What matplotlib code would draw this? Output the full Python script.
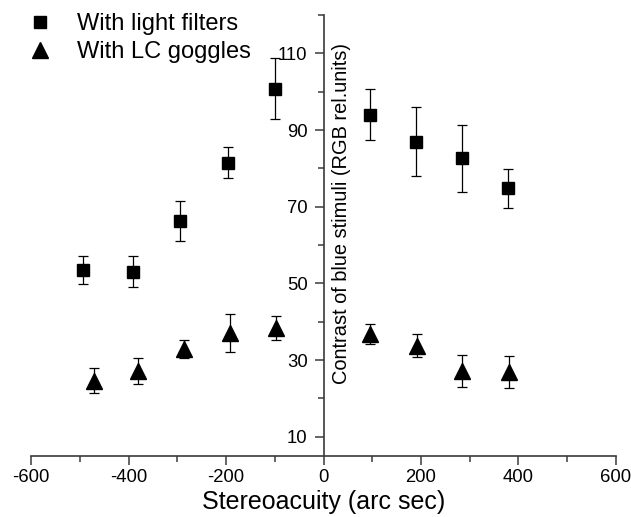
import matplotlib
matplotlib.use('Agg')
import matplotlib.pyplot as plt
from matplotlib.ticker import MultipleLocator, FixedLocator

plt.rcParams['font.family'] = ['Liberation Sans', 'DejaVu Sans']

# Data
filt_x = [-493, -392, -294, -196, -100, 95, 190, 284, 378]
filt_y = [53.5, 53.1, 66.2, 81.5, 100.8, 94.0, 87.0, 82.6, 74.8]
filt_err = [3.7, 4.0, 5.2, 4.1, 8.0, 6.6, 9.0, 8.7, 5.0]

lc_x = [-471, -380, -286, -191, -98, 95, 191, 285, 380]
lc_y = [24.6, 27.2, 32.9, 37.1, 38.4, 36.8, 33.8, 27.2, 27.0]
lc_err = [3.3, 3.3, 2.4, 5.0, 3.1, 2.7, 3.1, 4.2, 4.2]

x_ticks = [-600, -400, -200, 0, 200, 400, 600]
y_ticks = [10, 30, 50, 70, 90, 110]

W, H = 631, 517
fig = plt.figure(figsize=(W / 100, H / 100), dpi=100)
ax = fig.add_axes([31.3 / W, 61 / H, 584.4 / W, 441 / H])

spine_col = '#3a3a3a'
ax.errorbar(filt_x, filt_y, yerr=filt_err, fmt='none', ecolor='black',
            elinewidth=0.9, capsize=3.3, capthick=0.9, zorder=2)
ax.errorbar(lc_x, lc_y, yerr=lc_err, fmt='none', ecolor='black',
            elinewidth=0.9, capsize=3.3, capthick=0.9, zorder=2)
ax.plot(filt_x, filt_y, linestyle='none', marker='s', markersize=8.8,
        color='black', label='With light filters', zorder=3)
ax.plot(lc_x, lc_y, linestyle='none', marker='^', markersize=12,
        color='black', label='With LC goggles', zorder=3)

ax.set_xlim(-600, 600)
ax.set_ylim(5, 120)

ax.spines['top'].set_visible(False)
ax.spines['right'].set_visible(False)
ax.spines['left'].set_position(('data', 0))
for s in ('left', 'bottom'):
    ax.spines[s].set_color(spine_col)
    ax.spines[s].set_linewidth(1.2)

ax.xaxis.set_major_locator(FixedLocator(x_ticks))
ax.xaxis.set_minor_locator(MultipleLocator(100))
ax.yaxis.set_major_locator(FixedLocator(y_ticks))
ax.yaxis.set_minor_locator(FixedLocator([20, 40, 60, 80, 100, 120]))

ax.tick_params(axis='both', which='major', direction='out', length=6.5,
               width=1.1, color=spine_col, labelsize=13.3)
ax.tick_params(axis='x', which='major', pad=3)
ax.tick_params(axis='y', which='major', pad=5)
ax.tick_params(axis='both', which='minor', direction='out', length=4,
               width=1.1, color=spine_col)
ax.set_xticklabels([str(v) for v in x_ticks])
ax.set_yticklabels([str(v) for v in y_ticks])

ax.set_xlabel('Stereoacuity (arc sec)', fontsize=18, labelpad=2.5)
ax.set_ylabel('Contrast of blue stimuli (RGB rel.units)', fontsize=14.4)
ax.yaxis.set_label_coords((341.5 - 31.3) / 584.4, (303 - 61) / 441)
ax.yaxis.label.set_va('center')

leg = ax.legend(loc='upper left', bbox_to_anchor=(23.5 / W, 1 - 13 / H),
                bbox_transform=fig.transFigure, frameon=False, fontsize=17,
                handletextpad=0.87, labelspacing=0.25, borderpad=0,
                handlelength=1.4, borderaxespad=0)

fig.savefig('out.png', dpi=100)
